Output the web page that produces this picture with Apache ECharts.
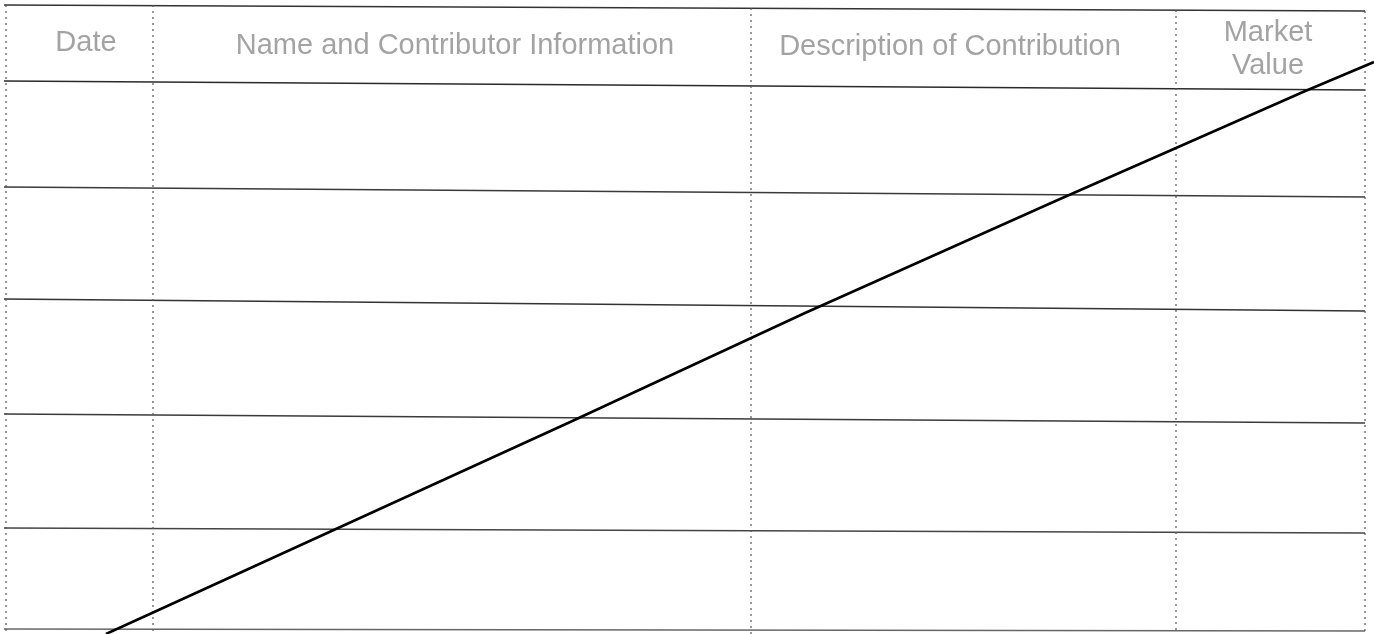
<!DOCTYPE html>
<html>
<head>
<meta charset="utf-8">
<title>Contribution log</title>
<script src="https://cdn.jsdelivr.net/npm/echarts@6/dist/echarts.min.js"></script>
<style>
    html, body { margin: 0; padding: 0; background: #fff; }
    #chart { width: 1374px; height: 634px; }
</style>
</head>
<body>
<div id="chart"></div>
<script>
// Page coordinates of the scanned form (x to the right, y downwards)
const ruleLeftX = 4;
const ruleRightX = 1365;
// horizontal rules: y at the left end, y at the right end (the scan is a bit tilted)
const ruleLeftY = [5, 81, 187, 299, 414, 528, 629];
const ruleRightY = [11, 90, 197, 311, 423, 533, 631];
const ruleColors = ['#333', '#2a2a2a', '#3a3a3a', '#333', '#3a3a3a', '#444', '#666'];

// vertical column dividers
const columnX = [6, 153, 751, 1176, 1365];
const columnTop = [5, 5, 8, 10, 11];
const columnBottom = 634;

// header texts
const headerLabels = ['Date', 'Name and Contributor Information', 'Description of Contribution', 'Market', 'Value'];
const headerX = [86, 455, 950, 1268, 1268];
const headerY = [43, 46, 47, 33, 66];

// the diagonal stroke drawn across the form
const strokeX = [106, 152, 568, 805, 1060, 1176, 1303, 1374];
const strokeY = [634, 613, 423, 313, 199, 148, 92, 62];

document.addEventListener('DOMContentLoaded', function() {
    const chart = echarts.init(document.getElementById('chart'), null, { renderer: 'canvas' });

    const series = [];

    // horizontal rules
    ruleLeftY.forEach((y, i) => {
        series.push({
            type: 'line',
            data: [[ruleLeftX, y], [ruleRightX, ruleRightY[i]]],
            symbol: 'none',
            silent: true,
            lineStyle: { color: ruleColors[i], width: 1.5 }
        });
    });

    // dotted column dividers
    columnX.forEach((x, i) => {
        series.push({
            type: 'line',
            data: [[x, columnTop[i]], [x, columnBottom]],
            symbol: 'none',
            silent: true,
            lineStyle: { color: '#555', width: 1.2, type: [2, 4] }
        });
    });

    // header labels
    series.push({
        type: 'scatter',
        symbolSize: 0,
        silent: true,
        data: headerLabels.map((t, i) => ({ value: [headerX[i], headerY[i]], name: t })),
        label: {
            show: true,
            position: [0, 0],
            align: 'center',
            verticalAlign: 'middle',
            formatter: p => p.name,
            fontFamily: 'Liberation Sans, Arial, sans-serif',
            fontSize: 29,
            color: '#8c8c8c'
        }
    });

    // diagonal stroke
    series.push({
        type: 'line',
        data: strokeX.map((x, i) => [x, strokeY[i]]),
        symbol: 'none',
        silent: true,
        lineStyle: { color: '#000', width: 2.6 },
        z: 5
    });

    chart.setOption({
        animation: false,
        backgroundColor: '#fff',
        grid: { left: 0, right: 0, top: 0, bottom: 0 },
        xAxis: { type: 'value', min: 0, max: 1374, show: false },
        yAxis: { type: 'value', min: 0, max: 634, inverse: true, show: false },
        series: series
    });
});
</script>
</body>
</html>
